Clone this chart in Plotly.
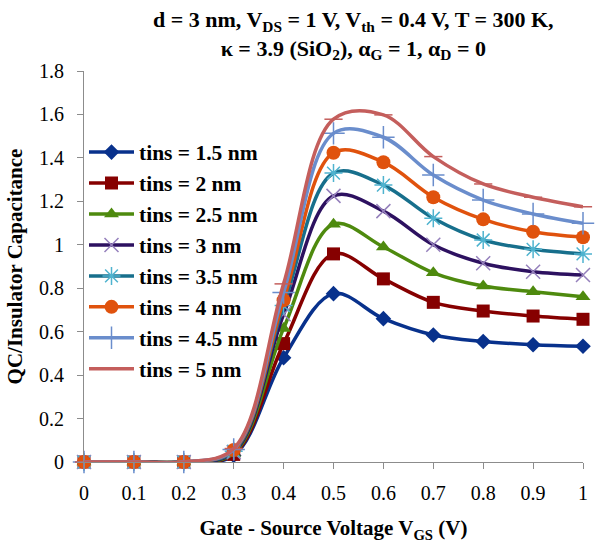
import plotly.graph_objects as go

vgs = [0, 0.1, 0.2, 0.3, 0.4, 0.5, 0.6, 0.7, 0.8, 0.9, 1.0]

names = ["tins = 1.5 nm", "tins = 2 nm", "tins = 2.5 nm", "tins = 3 nm",
         "tins = 3.5 nm", "tins = 4 nm", "tins = 4.5 nm", "tins = 5 nm"]

qc_15 = [0, 0, 0, 0.03, 0.48, 0.775, 0.66, 0.585, 0.555, 0.54, 0.533]
qc_20 = [0, 0, 0, 0.035, 0.545, 0.958, 0.843, 0.735, 0.695, 0.672, 0.657]
qc_25 = [0, 0, 0, 0.04, 0.615, 1.095, 0.99, 0.871, 0.81, 0.784, 0.761]
qc_30 = [0, 0, 0, 0.045, 0.68, 1.225, 1.155, 1.0, 0.915, 0.876, 0.861]
qc_35 = [0, 0, 0, 0.05, 0.72, 1.33, 1.275, 1.122, 1.022, 0.979, 0.958]
qc_40 = [0, 0, 0, 0.055, 0.745, 1.424, 1.38, 1.219, 1.117, 1.06, 1.035]
qc_45 = [0, 0, 0, 0.058, 0.78, 1.513, 1.495, 1.321, 1.206, 1.142, 1.099]
qc_50 = [0, 0, 0, 0.062, 0.82, 1.578, 1.598, 1.406, 1.28, 1.219, 1.175]

series = [qc_15, qc_20, qc_25, qc_30, qc_35, qc_40, qc_45, qc_50]

line_colors = ["#08318C", "#860000", "#4E8A0E", "#2D1160",
               "#176F8C", "#E0520D", "#6A8DCC", "#C45E5C"]
marker_colors = ["#08318C", "#860000", "#4E8A0E", "#9580BC",
                 "#4FB3CF", "#E0520D", "#6A8DCC", "#C45E5C"]
symbols = ["diamond", "square", "triangle-up", "x-thin-open",
           "asterisk-open", "circle", "cross-thin-open", "line-ew-open"]
msizes = [12, 13, 13, 14, 15, 14, 16, 13]

fig = go.Figure()
for i in range(len(series)):
    open_sym = symbols[i].endswith("open")
    fig.add_trace(go.Scatter(
        x=vgs, y=series[i], name=names[i], mode="lines+markers",
        line=dict(color=line_colors[i], width=3.5, shape="spline", smoothing=1),
        marker=dict(symbol=symbols[i], size=msizes[i], color=marker_colors[i],
                    line=dict(color=marker_colors[i], width=1.5 if open_sym else 0)),
        cliponaxis=False,
    ))

serif = "Liberation Serif"
fig.update_layout(
    width=595, height=546,
    margin=dict(l=84, r=7, t=71, b=84),
    plot_bgcolor="white", paper_bgcolor="white",
    showlegend=True,
    legend=dict(x=0.0, y=0.845, xanchor="left", yanchor="top",
                bgcolor="rgba(255,255,255,0)",
                font=dict(family=serif, size=21.5, color="black", weight="bold"),
                tracegroupgap=0, itemwidth=45),
    xaxis=dict(range=[0, 1], tick0=0, dtick=0.1, showgrid=False, zeroline=False,
               showline=True, linecolor="#8C8C8C", linewidth=1,
               ticks="outside", ticklen=6, tickcolor="#8C8C8C",
               ticklabelstandoff=7,
               tickfont=dict(family=serif, size=20, color="black"),
               title=dict(text="<b>Gate - Source Voltage V<sub>GS</sub> (V)</b>",
                          font=dict(family=serif, size=21, color="black"), standoff=17)),
    yaxis=dict(range=[0, 1.8], tick0=0, dtick=0.2, showgrid=False, zeroline=False,
               showline=True, linecolor="#8C8C8C", linewidth=1,
               ticks="outside", ticklen=6, tickcolor="#8C8C8C",
               ticklabelstandoff=9,
               tickfont=dict(family=serif, size=20, color="black"),
               title=dict(text="<b>QC/Insulator Capacitance</b>",
                          font=dict(family=serif, size=21, color="black"), standoff=10)),
)

fig.add_annotation(
    text="<b>d = 3 nm, V<sub>DS</sub> = 1 V, V<sub>th</sub> = 0.4 V, T = 300 K,</b><br>"
         "<b>κ = 3.9 (SiO<sub>2</sub>), α<sub>G</sub> = 1, α<sub>D</sub> = 0</b>",
    xref="paper", yref="paper", x=0.54, y=1.0, xanchor="center", yanchor="bottom",
    yshift=6, showarrow=False, align="center",
    font=dict(family=serif, size=22, color="black"),
)

fig.write_html("out.html")
